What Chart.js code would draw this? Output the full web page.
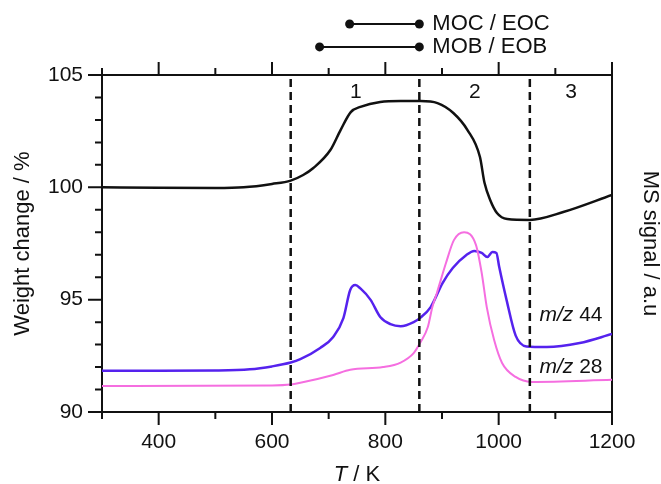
<!DOCTYPE html>
<html lang="en">
<head>
<meta charset="UTF-8" />
<title>Weight change and MS signal vs T</title>
<script src="https://cdn.jsdelivr.net/npm/chart.js"></script>
<style>
    body { margin: 0; background: #fff; }
    canvas { display: block; }
</style>
</head>
<body>
<canvas id="tgChart" width="661" height="484"></canvas>
<script>
// values (T in K)
const weightT   = [300, 400, 500, 550, 600, 633, 655, 673, 703, 721, 739, 756, 791, 827, 862, 892, 920, 945, 967, 975, 985, 997, 1015, 1055, 1114, 1200];
const weightPct = [100.0, 99.98, 99.97, 100.0, 100.15, 100.3, 100.55, 100.86, 101.66, 102.55, 103.35, 103.58, 103.8, 103.84, 103.84, 103.75, 103.31, 102.55, 101.35, 100.2, 99.44, 98.86, 98.59, 98.55, 98.9, 99.66];

// MS signals, plotted on the right axis (same span as the left one)
const ms44T = [300, 400, 500, 561, 600, 633, 650, 685, 708, 726, 738, 747, 756, 774, 791, 809, 827, 850, 862, 880, 901, 919, 943, 957, 970, 980, 989, 996, 1001, 1014, 1030, 1049, 1085, 1143, 1200];
const ms44  = [91.84, 91.84, 91.85, 91.9, 92.03, 92.2, 92.35, 92.85, 93.34, 94.18, 95.43, 95.65, 95.5, 94.99, 94.23, 93.91, 93.82, 94.0, 94.2, 94.67, 95.74, 96.41, 96.99, 97.17, 97.08, 96.9, 97.12, 97.08, 96.45, 94.98, 93.4, 92.92, 92.89, 93.07, 93.47];
const ms28T = [300, 600, 633, 650, 708, 738, 796, 827, 850, 862, 875, 883, 891, 907, 921, 939, 960, 970, 979, 992, 1006, 1030, 1058, 1200];
const ms28  = [91.16, 91.18, 91.22, 91.3, 91.65, 91.88, 92.0, 92.2, 92.62, 93.1, 93.78, 94.67, 95.3, 96.63, 97.65, 98.0, 97.43, 96.2, 94.67, 93.2, 92.18, 91.56, 91.34, 91.43];

// region boundaries and labels
const boundaryT = [633, 860, 1055];
const regionNames = ['1', '2', '3'];
const regionT = [748, 958, 1128];
const regionLevel = 104.25;

// MOC/EOC and MOB/EOB bars above the plot
const markerNames = ['MOC / EOC', 'MOB / EOB'];
const markerStart = [737, 684];
const markerEnd   = [860, 860];
const markerLevel = [107.27, 106.25];

// series labels
const seriesNames = ['44', '28'];
const seriesLabelT = [1072, 1072];
const seriesLabelY = [94.3, 92.0];

const xTickValues = [400, 600, 800, 1000, 1200];
const yTickValues = [90, 95, 100, 105];

const FONT = "'Liberation Sans', Arial, sans-serif";
const INK = '#111';

function pts(xs, ys) {
    return xs.map((x, i) => ({ x: x, y: ys[i] }));
}

const datasets = [];

boundaryT.forEach(t => {
    datasets.push({
        data: [{ x: t, y: 90 }, { x: t, y: 105 }],
        yAxisID: 'y',
        borderColor: INK,
        borderWidth: 2.5,
        borderDash: [8, 5],
        pointRadius: 0
    });
});

datasets.push({
    data: pts(ms28T, ms28),
    yAxisID: 'y1',
    borderColor: '#f56ee0',
    borderWidth: 2,
    pointRadius: 0,
    cubicInterpolationMode: 'monotone'
});

datasets.push({
    data: pts(ms44T, ms44),
    yAxisID: 'y1',
    borderColor: '#5522ee',
    borderWidth: 2.5,
    pointRadius: 0,
    cubicInterpolationMode: 'monotone'
});

datasets.push({
    data: pts(weightT, weightPct),
    yAxisID: 'y',
    borderColor: INK,
    borderWidth: 2.5,
    pointRadius: 0,
    cubicInterpolationMode: 'monotone'
});

// marker bars sit above the plot area, so no clipping; their end dots are
// drawn below from the dataset's own point elements
const markerSets = [];
markerNames.forEach((name, i) => {
    markerSets.push(datasets.length);
    datasets.push({
        data: [{ x: markerStart[i], y: markerLevel[i] }, { x: markerEnd[i], y: markerLevel[i] }],
        yAxisID: 'y',
        clip: false,
        borderColor: INK,
        borderWidth: 2,
        pointRadius: 0
    });
});

// ticks (major + minor), marker dots and the extra texts
const decorations = {
    id: 'decorations',
    afterDraw(chart) {
        const { ctx, chartArea: a, scales: { x, y } } = chart;
        ctx.save();

        ctx.strokeStyle = INK;
        ctx.lineWidth = 2;
        ctx.beginPath();
        for (let v = 300; v <= 1200; v += 100) {
            const px = x.getPixelForValue(v);
            const len = v % 200 === 0 ? 13 : 7;
            ctx.moveTo(px, a.bottom);
            ctx.lineTo(px, a.bottom + len);
            ctx.moveTo(px, a.top);
            ctx.lineTo(px, a.top - len);
        }
        for (let v = 90; v <= 105; v++) {
            const py = y.getPixelForValue(v);
            const len = v % 5 === 0 ? 14 : 7;
            ctx.moveTo(a.left, py);
            ctx.lineTo(a.left - len, py);
        }
        ctx.stroke();

        ctx.fillStyle = INK;
        markerSets.forEach(idx => {
            chart.getDatasetMeta(idx).data.forEach(p => {
                ctx.beginPath();
                ctx.arc(p.x, p.y, 4.5, 0, Math.PI * 2);
                ctx.fill();
            });
        });

        ctx.textBaseline = 'middle';

        ctx.font = '21px ' + FONT;
        ctx.textAlign = 'center';
        regionNames.forEach((n, i) => {
            ctx.fillText(n, x.getPixelForValue(regionT[i]), y.getPixelForValue(regionLevel));
        });

        ctx.font = '22px ' + FONT;
        ctx.textAlign = 'left';
        markerNames.forEach((n, i) => {
            ctx.fillText(n, x.getPixelForValue(markerEnd[i]) + 13, y.getPixelForValue(markerLevel[i]));
        });

        seriesNames.forEach((n, i) => {
            let px = x.getPixelForValue(seriesLabelT[i]);
            const py = y.getPixelForValue(seriesLabelY[i]);
            ctx.font = 'italic 21px ' + FONT;
            ctx.fillText('m/z', px, py);
            px += ctx.measureText('m/z ').width;
            ctx.font = '21px ' + FONT;
            ctx.fillText(n, px, py);
        });

        // x axis title: italic T
        ctx.font = 'italic 22px ' + FONT;
        const tW = ctx.measureText('T').width;
        ctx.font = '22px ' + FONT;
        const restW = ctx.measureText(' / K').width;
        const cx = (a.left + a.right) / 2;
        const tx = cx - (tW + restW) / 2;
        ctx.textBaseline = 'alphabetic';
        ctx.font = 'italic 22px ' + FONT;
        ctx.fillText('T', tx, 481);
        ctx.font = '22px ' + FONT;
        ctx.fillText(' / K', tx + tW, 481);

        ctx.restore();
    }
};

const border = { display: true, color: INK, width: 2 };

new Chart(document.getElementById('tgChart'), {
    type: 'line',
    data: { datasets: datasets },
    options: {
        responsive: false,
        animation: false,
        devicePixelRatio: 1,
        layout: { padding: 0 },
        plugins: { legend: { display: false }, tooltip: { enabled: false } },
        scales: {
            x: {
                type: 'linear',
                position: 'bottom',
                min: 300,
                max: 1200,
                border: border,
                grid: { display: false, drawTicks: false },
                afterBuildTicks: s => { s.ticks = xTickValues.map(v => ({ value: v })); },
                ticks: { color: INK, font: { family: FONT, size: 21 }, padding: 18, maxRotation: 0, autoSkip: false, callback: v => String(v) },
                afterFit: s => { s.height = 72; }
            },
            xTop: {
                type: 'linear',
                position: 'top',
                min: 300,
                max: 1200,
                border: border,
                grid: { display: false, drawTicks: false },
                ticks: { display: false },
                afterFit: s => { s.height = 75; }
            },
            y: {
                position: 'left',
                min: 90,
                max: 105,
                border: border,
                grid: { display: false, drawTicks: false },
                afterBuildTicks: s => { s.ticks = yTickValues.map(v => ({ value: v })); },
                ticks: { color: INK, font: { family: FONT, size: 21 }, padding: 19, callback: v => String(v) },
                title: { display: true, text: 'Weight change / %', color: INK, font: { family: FONT, size: 22 }, padding: { top: 10, bottom: 0 } },
                afterFit: s => { s.width = 102; }
            },
            y1: {
                position: 'right',
                min: 90,
                max: 105,
                border: border,
                grid: { display: false, drawTicks: false },
                ticks: { display: false },
                title: { display: true, text: 'MS signal / a.u', color: INK, font: { family: FONT, size: 22, lineHeight: 1 }, padding: { top: 0, bottom: 0 } },
                afterFit: s => { s.width = 49; }
            }
        }
    },
    plugins: [decorations]
});
</script>
</body>
</html>
